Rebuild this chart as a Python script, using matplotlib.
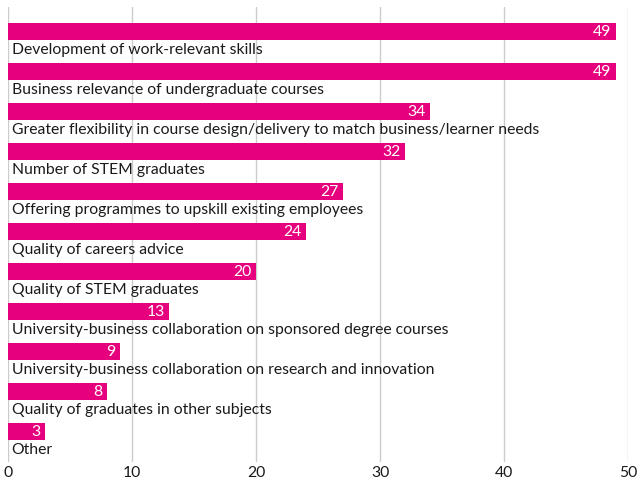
import matplotlib
matplotlib.use("Agg")
import matplotlib.pyplot as plt

categories = [
    "Development of work-relevant skills",
    "Business relevance of undergraduate courses",
    "Greater flexibility in course design/delivery to match business/learner needs",
    "Number of STEM graduates",
    "Offering programmes to upskill existing employees",
    "Quality of careers advice",
    "Quality of STEM graduates",
    "University-business collaboration on sponsored degree courses",
    "University-business collaboration on research and innovation",
    "Quality of graduates in other subjects",
    "Other",
]
values = [49, 49, 34, 32, 27, 24, 20, 13, 9, 8, 3]
xticks = [0, 10, 20, 30, 40, 50]

plt.rcParams['font.family'] = ['Lato', 'DejaVu Sans']
color = "#E6007E"
fs = 11.3

fig = plt.figure(figsize=(6.37, 4.83), dpi=100)
ax = fig.add_axes([8/637, 1 - 462/483, 620/637, (462 - 7)/483])

ys = list(range(len(categories)))
ax.barh(ys, values, height=0.425, color=color, zorder=2)
for y, v, c in zip(ys, values, categories):
    ax.text(v - 0.35, y, str(v), color="white", ha="right", va="center",
            fontsize=fs, zorder=3)
    ax.text(0.3, y + 0.47, c, color="#1a1a1a", ha="left", va="center",
            fontsize=fs, zorder=3)

ax.set_xlim(0, 50)
ax.set_ylim(10.7625, -0.6125)
ax.set_xticks(xticks)
ax.set_xticklabels([str(t) for t in xticks], fontsize=fs, color="#1a1a1a")
ax.set_yticks([])
ax.tick_params(axis="x", length=0, pad=3)
ax.grid(axis="x", color="#cccccc", linewidth=1, zorder=0)
for s in ax.spines.values():
    s.set_visible(False)

fig.savefig("out.png", dpi=100)
